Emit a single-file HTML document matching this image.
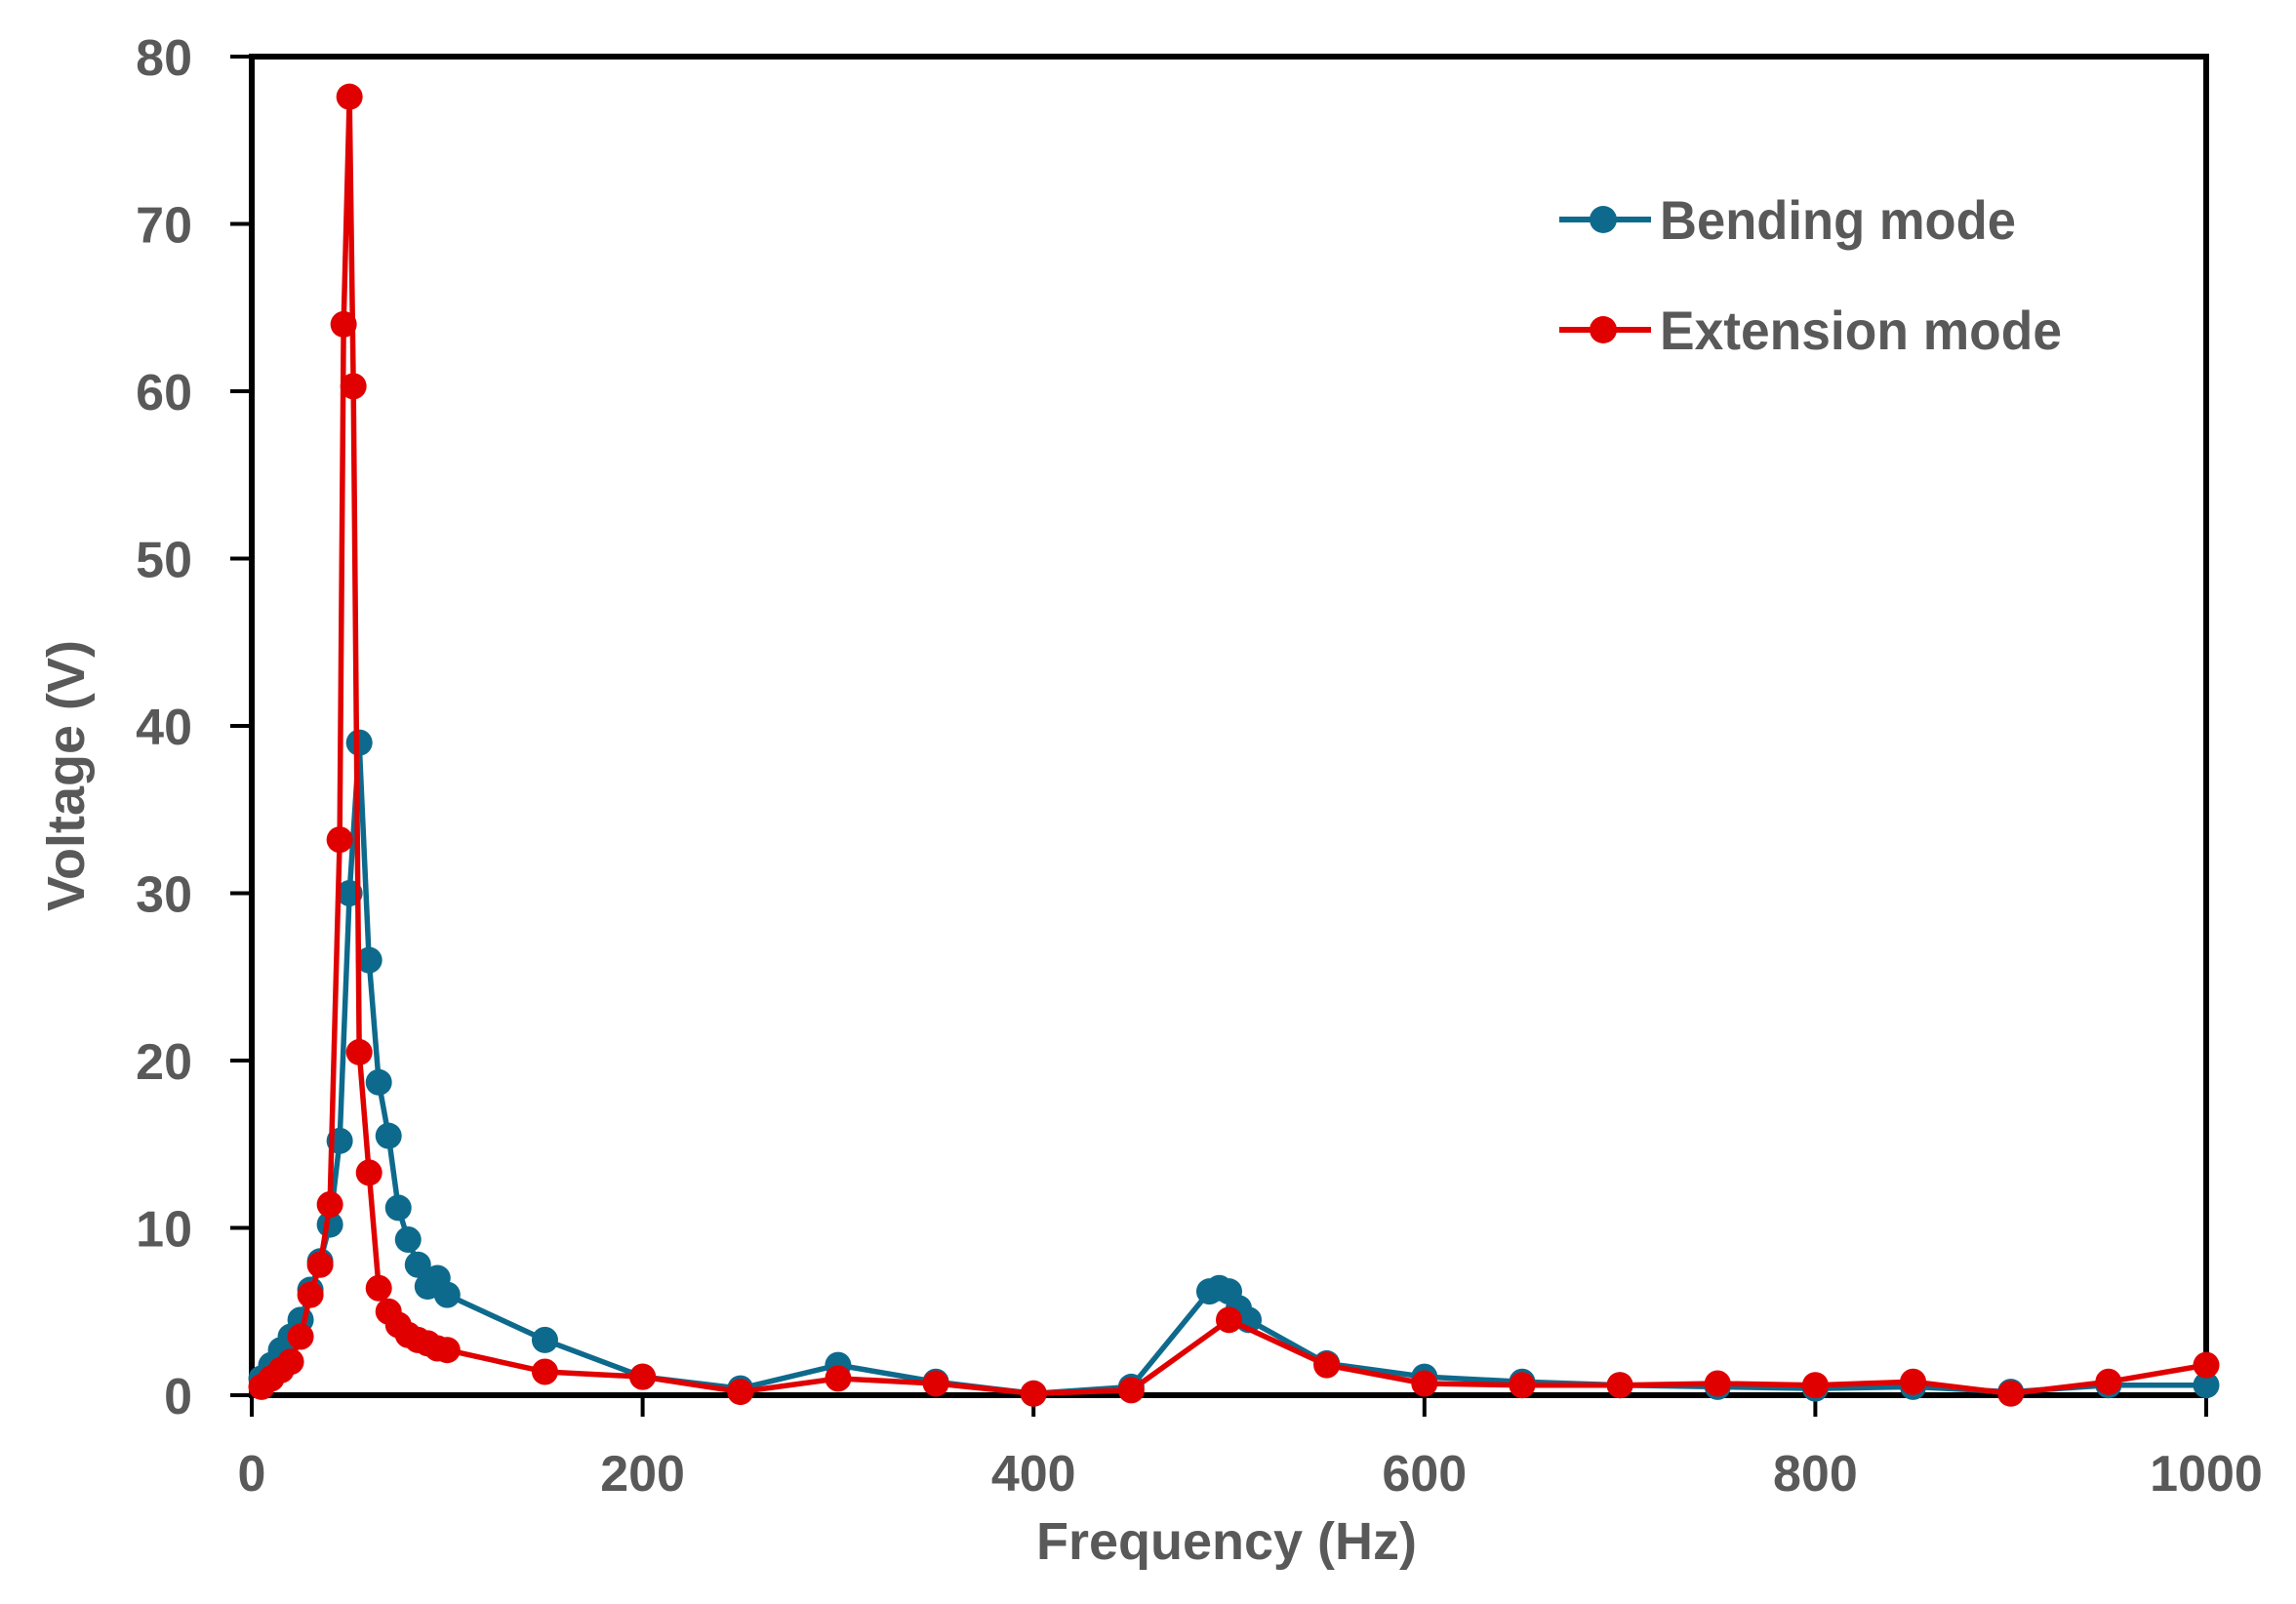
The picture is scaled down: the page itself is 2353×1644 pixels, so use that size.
<!DOCTYPE html>
<html><head><meta charset="utf-8"><style>
html,body{margin:0;padding:0;background:#fff;}
svg{display:block;font-family:"Liberation Sans",sans-serif;}
</style></head><body>
<svg id="chart" width="2353" height="1644" viewBox="0 0 2353 1644" xmlns="http://www.w3.org/2000/svg">
<rect width="2353" height="1644" fill="#fff"/>
<g id="axes"></g>
<g id="series"></g>
<g id="legend">
  <g>
    <line x1="1598" y1="225" x2="1692" y2="225" stroke="#0E6A8C" stroke-width="6"/>
    <circle cx="1643" cy="225" r="14" fill="#0E6A8C"/>
    <text x="1701" y="245" font-size="56" font-weight="bold" fill="#595959" textLength="365" lengthAdjust="spacingAndGlyphs">Bending mode</text>
  </g>
  <g>
    <line x1="1598" y1="338" x2="1692" y2="338" stroke="#E00000" stroke-width="6"/>
    <circle cx="1643" cy="338" r="14" fill="#E00000"/>
    <text x="1701" y="358" font-size="56" font-weight="bold" fill="#595959" textLength="412" lengthAdjust="spacingAndGlyphs">Extension mode</text>
  </g>
</g>
</svg>
<script>
const xTicks = [0, 200, 400, 600, 800, 1000];
const yTicks = [0, 10, 20, 30, 40, 50, 60, 70, 80];
const bendFreq = [5,10,15,20,25,30,35,40,45,50,55,60,65,70,75,80,85,90,95,100,150,200,250,300,350,400,450,490,495,500,505,510,550,600,650,700,750,800,850,900,950,1000];
const bendVolt = [1,1.8,2.7,3.5,4.5,6.3,8,10.2,15.2,30,39,26,18.7,15.5,11.2,9.3,7.8,6.5,7,6,3.3,1.1,0.4,1.8,0.8,0.1,0.5,6.2,6.4,6.2,5.2,4.5,1.9,1.1,0.8,0.6,0.5,0.4,0.5,0.2,0.6,0.6];
const extFreq = [5,10,15,20,25,30,35,40,45,47,50,52,55,60,65,70,75,80,85,90,95,100,150,200,250,300,350,400,450,500,550,600,650,700,750,800,850,900,950,1000];
const extVolt = [0.5,1,1.5,2,3.5,6,7.8,11.4,33.2,64,77.6,60.3,20.5,13.3,6.4,5,4.2,3.6,3.3,3.1,2.8,2.7,1.4,1.1,0.2,1,0.7,0.1,0.3,4.5,1.8,0.7,0.6,0.6,0.7,0.6,0.8,0.1,0.8,1.8];

const L=258,R=2261,T=58,B=1430;
const xs = v => L + (v/1000)*(R-L);
const ys = v => B - (v/80)*(B-T);
const NS="http://www.w3.org/2000/svg";
function mk(tag, attrs, parent){const e=document.createElementNS(NS,tag);for(const k in attrs)e.setAttribute(k,attrs[k]);parent.appendChild(e);return e;}
const axes=document.getElementById('axes');
const frame=mk('rect',{x:L,y:T,width:R-L,height:B-T,fill:'none',stroke:'#000','stroke-width':6},axes);


yTicks.forEach(t=>{
  const y=ys(t);
  const tk=mk('line',{x1:L-22,y1:y,x2:L,y2:y,stroke:'#000','stroke-width':4},axes);
  
  
  const lb=mk('text',{x:197,y:y+19,'text-anchor':'end','font-size':52,'font-weight':'bold',fill:'#595959'},axes);
  lb.textContent=t;
  
  
});
xTicks.forEach(t=>{
  const x=xs(t);
  const tk=mk('line',{x1:x,y1:B,x2:x,y2:B+22,stroke:'#000','stroke-width':4},axes);
  
  
  const lb=mk('text',{x:x,y:1528,'text-anchor':'middle','font-size':52,'font-weight':'bold',fill:'#595959'},axes);
  lb.textContent=t;
  
  
});
const xt=mk('text',{x:1257,y:1598,'text-anchor':'middle','font-size':54,'font-weight':'bold',fill:'#595959'},axes);
xt.textContent='Frequency (Hz)';


const yt=mk('text',{x:0,y:0,'text-anchor':'middle','font-size':54,'font-weight':'bold',fill:'#595959',transform:'translate(86,795) rotate(-90)'},axes);
yt.textContent='Voltage (V)';



const ser=document.getElementById('series');
function drawSeries(fx, fy, color, name){
  const g=mk('g',{},ser);
  
  
  const pts=fx.map((f,i)=>xs(f)+','+ys(fy[i])).join(' ');
  const pl=mk('polyline',{points:pts,fill:'none',stroke:color,'stroke-width':5.5,'stroke-linejoin':'round'},g);
  
  
  fx.forEach((f,i)=>{
    const c=mk('circle',{cx:xs(f),cy:ys(fy[i]),r:13.5,fill:color},g);
    
    
  });
}
drawSeries(bendFreq,bendVolt,'#0E6A8C','bending');
drawSeries(extFreq,extVolt,'#E00000','extension');
</script>
</body></html>
